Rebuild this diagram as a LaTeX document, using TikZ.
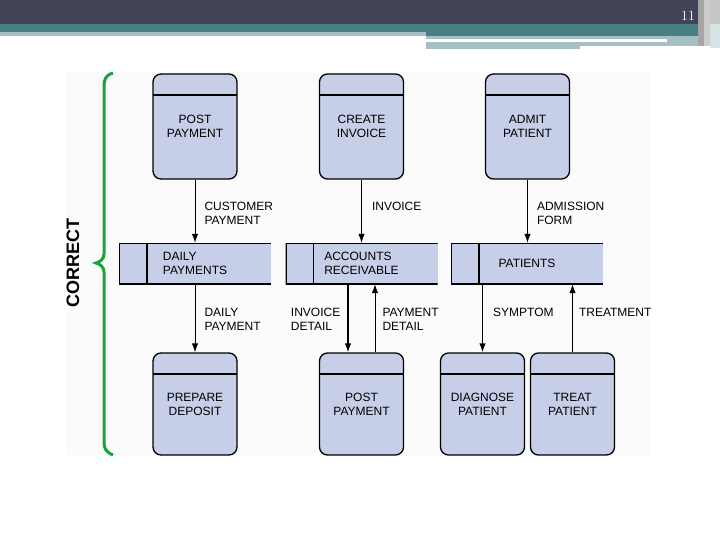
\documentclass[tikz,border=0pt]{standalone}
\usepackage{fontspec}
\newfontfamily\arial{Liberation Sans}
\usepackage{tikz}
\usetikzlibrary{arrows, arrows.meta, positioning}
\tikzset{>={Latex[length=9pt, width=6.5pt]}}

\definecolor{hdark}{HTML}{424357}
\definecolor{hteal}{HTML}{477F82}
\definecolor{hlight}{HTML}{A5BFC3}
\definecolor{hmist}{HTML}{D6E2E3}
\definecolor{boxfill}{HTML}{C6CEE8}
\definecolor{bracegreen}{HTML}{1BA23C}

\tikzset{
  process/.style={draw, line width=1.3pt, rounded corners=8pt, fill=boxfill,
    minimum width=84pt, minimum height=105pt, align=center, inner sep=0pt,
    font=\arial\fontsize{12}{14}\selectfont,
    path picture={\draw[line width=1.3pt]
      ([yshift=-21pt]path picture bounding box.north west) --
      ([yshift=-21pt]path picture bounding box.north east);}},
  store/.style={fill=boxfill, minimum width=152pt, minimum height=41pt,
    align=left, inner sep=0pt, font=\arial\fontsize{12}{14}\selectfont,
    path picture={\draw[line width=2.4pt]
      (path picture bounding box.north east) -- (path picture bounding box.north west) --
      (path picture bounding box.south west) -- (path picture bounding box.south east);
      \draw[line width=1.3pt]
      ([xshift=28pt]path picture bounding box.north west) --
      ([xshift=28pt]path picture bounding box.south west);}},
  flow/.style={->, line width=1pt},
  lbl/.style={align=left, inner sep=0pt, font=\arial\fontsize{12}{14}\selectfont}
}

\begin{document}
\begin{tikzpicture}[x=1pt, y=-1pt]
\useasboundingbox (0,0) rectangle (720,540);

% slide header
\fill[hdark] (0,0) rectangle (720,24);
\fill[hteal] (0,24) rectangle (700,32);
\fill[hteal] (426,32) rectangle (700,36);
\fill[hlight] (0,32) rectangle (426,36);
\fill[hlight] (426,36) rectangle (667,39);
\fill[hlight] (426,42) rectangle (580,49);
\fill[hlight] (580,42) rectangle (707,46);
\fill[hlight] (667,36) rectangle (700,46);
\fill[gray!70] (698,0) rectangle (704,46);
\fill[gray!40] (704,0) rectangle (710,46);
\fill[gray!45] (710,0) rectangle (720,24);
\fill[hmist] (710,24) rectangle (720,48);
\node[text=white, font=\fontsize{14}{14}\selectfont] (pagenum) at (688,16) {11};

% figure
\fill[black!1.5!white] (66,72) rectangle (650,455);
\draw[bracegreen, line width=3pt] (113,73) .. controls (106,75) and (104,79) .. (104,86)
  -- (104,254) .. controls (104,259) and (100,262) .. (96,263)
  .. controls (100,264) and (104,267) .. (104,272)
  -- (104,442) .. controls (104,449) and (106,452) .. (113,455);
\node[rotate=90, font=\arial\bfseries\fontsize{18}{18}\selectfont] (correct) at (73,263) {CORRECT};

\node[process] (pp1) at (195,126.5) {POST\\PAYMENT};
\node[process] (ci) at (361.5,126.5) {CREATE\\INVOICE};
\node[process] (ap) at (527.5,126.5) {ADMIT\\PATIENT};

\node[store] (dp) at (195,263.5) {DAILY\\PAYMENTS};
\node[store] (ar) at (361.5,263.5) {ACCOUNTS\\RECEIVABLE};
\node[store] (pa) at (527,263.5) {PATIENTS};

\node[process, minimum height=102pt] (pd) at (195,404) {PREPARE\\DEPOSIT};
\node[process, minimum height=102pt] (pp2) at (361.5,404) {POST\\PAYMENT};
\node[process, minimum height=102pt] (dg) at (482.5,404) {DIAGNOSE\\PATIENT};
\node[process, minimum height=102pt] (tp) at (572.5,404) {TREAT\\PATIENT};

\draw[flow] (pp1) -- (dp) node[lbl, pos=.35, anchor=north west, xshift=9pt] {CUSTOMER\\PAYMENT};
\draw[flow] (ci) -- (ar) node[lbl, pos=.35, anchor=north west, xshift=10pt] {INVOICE};
\draw[flow] (ap) -- (ap.south |- pa.north) node[lbl, pos=.35, anchor=north west, xshift=9pt] {ADMISSION\\FORM};
\draw[flow] (dp) -- (pd) node[lbl, pos=.35, anchor=north west, xshift=9pt] {DAILY\\PAYMENT};
\draw[flow, line width=1.4pt] ([xshift=-13.5pt]ar.south) -- ([xshift=-13.5pt]pp2.north) node[lbl, pos=.345, anchor=north east, xshift=-7pt] {INVOICE\\DETAIL};
\draw[flow] ([xshift=13.5pt]pp2.north) -- ([xshift=13.5pt]ar.south) node[lbl, pos=.65, anchor=north west, xshift=7pt] {PAYMENT\\DETAIL};
\draw[flow, line width=1.4pt] (dg.north |- pa.south) -- (dg.north) node[lbl, pos=.345, anchor=north west, xshift=10pt] {SYMPTOM};
\draw[flow] (tp.north) -- (tp.north |- pa.south) node[lbl, pos=.65, anchor=north west, xshift=6pt] {TREATMENT};
\end{tikzpicture}
\end{document}
